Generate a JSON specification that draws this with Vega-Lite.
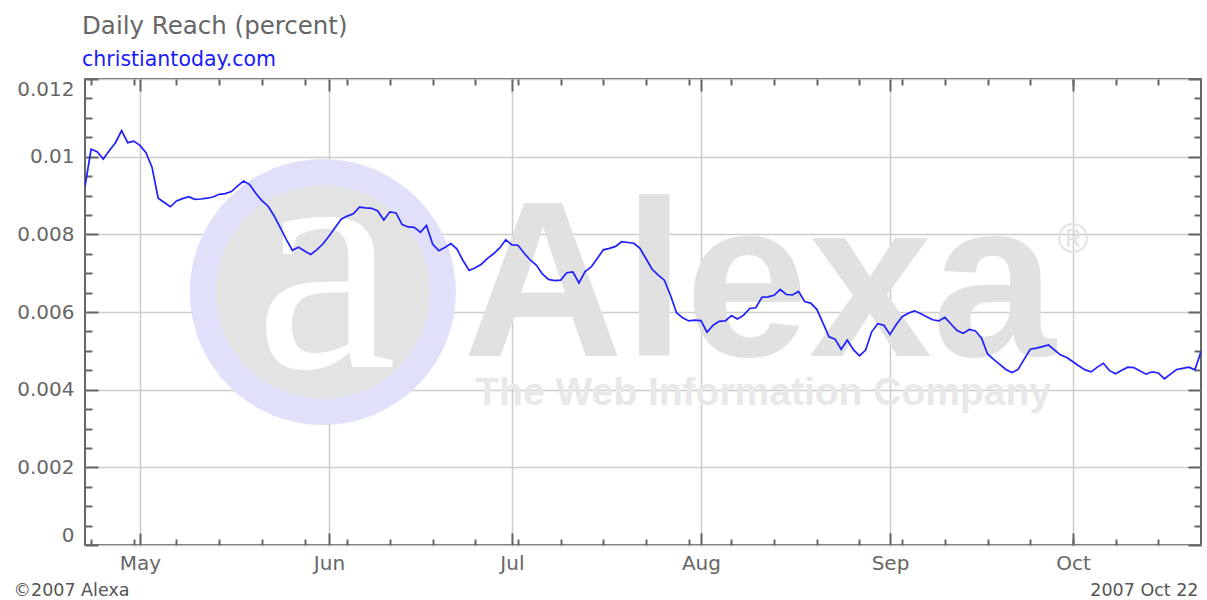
{
  "$schema": "https://vega.github.io/schema/vega-lite/v6.json",
  "width": 1116,
  "height": 466,
  "autosize": "none",
  "padding": {"left": 85, "top": 79, "right": 6, "bottom": 55},
  "background": "white",
  "config": {
    "view": {"stroke": "#666666", "strokeWidth": 2},
    "font": "DejaVu Sans",
    "axis": {
      "labelFont": "DejaVu Sans",
      "labelColor": "#666666",
      "labelFontSize": 20,
      "titleFont": "DejaVu Sans",
      "titleFontWeight": "normal",
      "titleColor": "#555555",
      "titleFontSize": 17.5,
      "domain": false,
      "grid": false,
      "ticks": false,
      "labels": false,
      "tickColor": "#666666",
      "tickWidth": 2,
      "gridColor": "#cccccc",
      "gridWidth": 1.5,
      "zindex": 1
    }
  },
  "title": {
    "text": "Daily Reach (percent)",
    "subtitle": "christiantoday.com",
    "anchor": "start",
    "frame": "group",
    "dx": -3,
    "offset": 7,
    "font": "DejaVu Sans",
    "fontSize": 24.5,
    "fontWeight": "normal",
    "color": "#666666",
    "subtitleFont": "DejaVu Sans",
    "subtitleFontSize": 20.5,
    "subtitleColor": "#1a1aff",
    "subtitlePadding": 10
  },
  "datasets": {
    "reach": [
      {"date": "2007-04-22", "reach": 0.00923},
      {"date": "2007-04-23", "reach": 0.01019},
      {"date": "2007-04-24", "reach": 0.01013},
      {"date": "2007-04-25", "reach": 0.00994},
      {"date": "2007-04-26", "reach": 0.01016},
      {"date": "2007-04-27", "reach": 0.01036},
      {"date": "2007-04-28", "reach": 0.01067},
      {"date": "2007-04-29", "reach": 0.01036},
      {"date": "2007-04-30", "reach": 0.0104},
      {"date": "2007-05-01", "reach": 0.01029},
      {"date": "2007-05-02", "reach": 0.0101},
      {"date": "2007-05-03", "reach": 0.00972},
      {"date": "2007-05-04", "reach": 0.00893},
      {"date": "2007-05-05", "reach": 0.00882},
      {"date": "2007-05-06", "reach": 0.00871},
      {"date": "2007-05-07", "reach": 0.00886},
      {"date": "2007-05-08", "reach": 0.00892},
      {"date": "2007-05-09", "reach": 0.00897},
      {"date": "2007-05-10", "reach": 0.0089},
      {"date": "2007-05-11", "reach": 0.00891},
      {"date": "2007-05-12", "reach": 0.00893},
      {"date": "2007-05-13", "reach": 0.00896},
      {"date": "2007-05-14", "reach": 0.00903},
      {"date": "2007-05-15", "reach": 0.00905},
      {"date": "2007-05-16", "reach": 0.0091},
      {"date": "2007-05-17", "reach": 0.00924},
      {"date": "2007-05-18", "reach": 0.00937},
      {"date": "2007-05-19", "reach": 0.00928},
      {"date": "2007-05-20", "reach": 0.00906},
      {"date": "2007-05-21", "reach": 0.00887},
      {"date": "2007-05-22", "reach": 0.00873},
      {"date": "2007-05-23", "reach": 0.00848},
      {"date": "2007-05-24", "reach": 0.00818},
      {"date": "2007-05-25", "reach": 0.00787},
      {"date": "2007-05-26", "reach": 0.00759},
      {"date": "2007-05-27", "reach": 0.00767},
      {"date": "2007-05-28", "reach": 0.00757},
      {"date": "2007-05-29", "reach": 0.00748},
      {"date": "2007-05-30", "reach": 0.0076},
      {"date": "2007-05-31", "reach": 0.00775},
      {"date": "2007-06-01", "reach": 0.00795},
      {"date": "2007-06-02", "reach": 0.00817},
      {"date": "2007-06-03", "reach": 0.00839},
      {"date": "2007-06-04", "reach": 0.00847},
      {"date": "2007-06-05", "reach": 0.00853},
      {"date": "2007-06-06", "reach": 0.0087},
      {"date": "2007-06-07", "reach": 0.00868},
      {"date": "2007-06-08", "reach": 0.00867},
      {"date": "2007-06-09", "reach": 0.0086},
      {"date": "2007-06-10", "reach": 0.00837},
      {"date": "2007-06-11", "reach": 0.00858},
      {"date": "2007-06-12", "reach": 0.00855},
      {"date": "2007-06-13", "reach": 0.00825},
      {"date": "2007-06-14", "reach": 0.00819},
      {"date": "2007-06-15", "reach": 0.00818},
      {"date": "2007-06-16", "reach": 0.00805},
      {"date": "2007-06-17", "reach": 0.00823},
      {"date": "2007-06-18", "reach": 0.00775},
      {"date": "2007-06-19", "reach": 0.00758},
      {"date": "2007-06-20", "reach": 0.00766},
      {"date": "2007-06-21", "reach": 0.00776},
      {"date": "2007-06-22", "reach": 0.00762},
      {"date": "2007-06-23", "reach": 0.00732},
      {"date": "2007-06-24", "reach": 0.00707},
      {"date": "2007-06-25", "reach": 0.00714},
      {"date": "2007-06-26", "reach": 0.00723},
      {"date": "2007-06-27", "reach": 0.00738},
      {"date": "2007-06-28", "reach": 0.0075},
      {"date": "2007-06-29", "reach": 0.00765},
      {"date": "2007-06-30", "reach": 0.00786},
      {"date": "2007-07-01", "reach": 0.00773},
      {"date": "2007-07-02", "reach": 0.00772},
      {"date": "2007-07-03", "reach": 0.00752},
      {"date": "2007-07-04", "reach": 0.00734},
      {"date": "2007-07-05", "reach": 0.00721},
      {"date": "2007-07-06", "reach": 0.00698},
      {"date": "2007-07-07", "reach": 0.00684},
      {"date": "2007-07-08", "reach": 0.00681},
      {"date": "2007-07-09", "reach": 0.00682},
      {"date": "2007-07-10", "reach": 0.00701},
      {"date": "2007-07-11", "reach": 0.00703},
      {"date": "2007-07-12", "reach": 0.00675},
      {"date": "2007-07-13", "reach": 0.00704},
      {"date": "2007-07-14", "reach": 0.00716},
      {"date": "2007-07-15", "reach": 0.00738},
      {"date": "2007-07-16", "reach": 0.0076},
      {"date": "2007-07-17", "reach": 0.00764},
      {"date": "2007-07-18", "reach": 0.00769},
      {"date": "2007-07-19", "reach": 0.00781},
      {"date": "2007-07-20", "reach": 0.00779},
      {"date": "2007-07-21", "reach": 0.00777},
      {"date": "2007-07-22", "reach": 0.00764},
      {"date": "2007-07-23", "reach": 0.00737},
      {"date": "2007-07-24", "reach": 0.0071},
      {"date": "2007-07-25", "reach": 0.00695},
      {"date": "2007-07-26", "reach": 0.00682},
      {"date": "2007-07-27", "reach": 0.00643},
      {"date": "2007-07-28", "reach": 0.00598},
      {"date": "2007-07-29", "reach": 0.00585},
      {"date": "2007-07-30", "reach": 0.00577},
      {"date": "2007-07-31", "reach": 0.00579},
      {"date": "2007-08-01", "reach": 0.00578},
      {"date": "2007-08-02", "reach": 0.00548},
      {"date": "2007-08-03", "reach": 0.00566},
      {"date": "2007-08-04", "reach": 0.00576},
      {"date": "2007-08-05", "reach": 0.00577},
      {"date": "2007-08-06", "reach": 0.00591},
      {"date": "2007-08-07", "reach": 0.00582},
      {"date": "2007-08-08", "reach": 0.00592},
      {"date": "2007-08-09", "reach": 0.00609},
      {"date": "2007-08-10", "reach": 0.00611},
      {"date": "2007-08-11", "reach": 0.00638},
      {"date": "2007-08-12", "reach": 0.00639},
      {"date": "2007-08-13", "reach": 0.00643},
      {"date": "2007-08-14", "reach": 0.00658},
      {"date": "2007-08-15", "reach": 0.00645},
      {"date": "2007-08-16", "reach": 0.00644},
      {"date": "2007-08-17", "reach": 0.00653},
      {"date": "2007-08-18", "reach": 0.00627},
      {"date": "2007-08-19", "reach": 0.00623},
      {"date": "2007-08-20", "reach": 0.00607},
      {"date": "2007-08-21", "reach": 0.00572},
      {"date": "2007-08-22", "reach": 0.00536},
      {"date": "2007-08-23", "reach": 0.0053},
      {"date": "2007-08-24", "reach": 0.00504},
      {"date": "2007-08-25", "reach": 0.00528},
      {"date": "2007-08-26", "reach": 0.00503},
      {"date": "2007-08-27", "reach": 0.00487},
      {"date": "2007-08-28", "reach": 0.00502},
      {"date": "2007-08-29", "reach": 0.00549},
      {"date": "2007-08-30", "reach": 0.0057},
      {"date": "2007-08-31", "reach": 0.00566},
      {"date": "2007-09-01", "reach": 0.00542},
      {"date": "2007-09-02", "reach": 0.00567},
      {"date": "2007-09-03", "reach": 0.00588},
      {"date": "2007-09-04", "reach": 0.00597},
      {"date": "2007-09-05", "reach": 0.00603},
      {"date": "2007-09-06", "reach": 0.00596},
      {"date": "2007-09-07", "reach": 0.00588},
      {"date": "2007-09-08", "reach": 0.0058},
      {"date": "2007-09-09", "reach": 0.00577},
      {"date": "2007-09-10", "reach": 0.00586},
      {"date": "2007-09-11", "reach": 0.00569},
      {"date": "2007-09-12", "reach": 0.00552},
      {"date": "2007-09-13", "reach": 0.00545},
      {"date": "2007-09-14", "reach": 0.00555},
      {"date": "2007-09-15", "reach": 0.00551},
      {"date": "2007-09-16", "reach": 0.00533},
      {"date": "2007-09-17", "reach": 0.00492},
      {"date": "2007-09-18", "reach": 0.00478},
      {"date": "2007-09-19", "reach": 0.00465},
      {"date": "2007-09-20", "reach": 0.00452},
      {"date": "2007-09-21", "reach": 0.00444},
      {"date": "2007-09-22", "reach": 0.00452},
      {"date": "2007-09-23", "reach": 0.00478},
      {"date": "2007-09-24", "reach": 0.00504},
      {"date": "2007-09-25", "reach": 0.00507},
      {"date": "2007-09-26", "reach": 0.00511},
      {"date": "2007-09-27", "reach": 0.00515},
      {"date": "2007-09-28", "reach": 0.00502},
      {"date": "2007-09-29", "reach": 0.00489},
      {"date": "2007-09-30", "reach": 0.00483},
      {"date": "2007-10-01", "reach": 0.00472},
      {"date": "2007-10-02", "reach": 0.00461},
      {"date": "2007-10-03", "reach": 0.00451},
      {"date": "2007-10-04", "reach": 0.00446},
      {"date": "2007-10-05", "reach": 0.00458},
      {"date": "2007-10-06", "reach": 0.00468},
      {"date": "2007-10-07", "reach": 0.00449},
      {"date": "2007-10-08", "reach": 0.00441},
      {"date": "2007-10-09", "reach": 0.0045},
      {"date": "2007-10-10", "reach": 0.00458},
      {"date": "2007-10-11", "reach": 0.00457},
      {"date": "2007-10-12", "reach": 0.00448},
      {"date": "2007-10-13", "reach": 0.0044},
      {"date": "2007-10-14", "reach": 0.00446},
      {"date": "2007-10-15", "reach": 0.00443},
      {"date": "2007-10-16", "reach": 0.00428},
      {"date": "2007-10-17", "reach": 0.0044},
      {"date": "2007-10-18", "reach": 0.00452},
      {"date": "2007-10-19", "reach": 0.00455},
      {"date": "2007-10-20", "reach": 0.00458},
      {"date": "2007-10-21", "reach": 0.00451},
      {"date": "2007-10-22", "reach": 0.00498}
    ],
    "watermark": [
      {"item": "ring", "date": "2007-05-31T00:00:00Z", "reach": 0.006515},
      {"item": "disk", "date": "2007-05-31T00:00:00Z", "reach": 0.006515},
      {"item": "glyph", "date": "2007-05-31T12:00:00Z", "reach": 0.004584},
      {"item": "brand", "date": "2007-06-23T00:00:00Z", "reach": 0.004867},
      {"item": "tagline", "date": "2007-06-25T00:00:00Z", "reach": 0.003605},
      {"item": "registered", "date": "2007-10-01T00:00:00Z", "reach": 0.007854}
    ]
  },
  "resolve": {"axis": {"x": "independent", "y": "independent"}},
  "layer": [
    {
      "data": {"name": "watermark"},
      "transform": [{"filter": "datum.item == 'ring'"}],
      "mark": {"type": "point", "shape": "circle", "filled": true, "size": 70756, "color": "#e0e0fa", "opacity": 1},
      "encoding": {
        "x": {"field": "date", "type": "temporal",
          "scale": {"type": "utc", "domain": [{"year": 2007, "month": "apr", "date": 22, "utc": true}, {"year": 2007, "month": "oct", "date": 22, "utc": true}]},
          "axis": {"orient": "bottom", "labels": true, "grid": true, "format": "%b", "labelPadding": 8,
            "values": [
              {"year": 2007, "month": "may", "date": 1, "utc": true},
              {"year": 2007, "month": "jun", "date": 1, "utc": true},
              {"year": 2007, "month": "jul", "date": 1, "utc": true},
              {"year": 2007, "month": "aug", "date": 1, "utc": true},
              {"year": 2007, "month": "sep", "date": 1, "utc": true},
              {"year": 2007, "month": "oct", "date": 1, "utc": true}
            ],
            "title": "©2007 Alexa", "titleX": -72, "titleY": 45, "titleAlign": "left", "titleAnchor": "start", "titleBaseline": "middle"}},
        "y": {"field": "reach", "type": "quantitative",
          "scale": {"domain": [0, 0.012], "nice": false, "zero": false},
          "axis": {"orient": "left", "labels": true, "grid": true, "format": "~g", "labelFlush": true, "labelPadding": 11,
            "values": [0, 0.002, 0.004, 0.006, 0.008, 0.01, 0.012], "title": null}}
      }
    },
    {
      "data": {"name": "watermark"},
      "transform": [{"filter": "datum.item == 'disk'"}],
      "mark": {"type": "point", "shape": "circle", "filled": true, "size": 45796, "color": "#e3e3e3", "opacity": 1},
      "encoding": {
        "x": {"field": "date", "type": "temporal",
          "scale": {"type": "utc", "domain": [{"year": 2007, "month": "apr", "date": 22, "utc": true}, {"year": 2007, "month": "oct", "date": 22, "utc": true}]},
          "axis": {"orient": "bottom", "ticks": true, "tickSize": -12,
            "values": [
              {"year": 2007, "month": "may", "date": 1, "utc": true},
              {"year": 2007, "month": "jun", "date": 1, "utc": true},
              {"year": 2007, "month": "jul", "date": 1, "utc": true},
              {"year": 2007, "month": "aug", "date": 1, "utc": true},
              {"year": 2007, "month": "sep", "date": 1, "utc": true},
              {"year": 2007, "month": "oct", "date": 1, "utc": true}
            ],
            "title": "2007 Oct  22", "titleX": 1113, "titleY": 45, "titleAlign": "right", "titleAnchor": "end", "titleBaseline": "middle"}},
        "y": {"field": "reach", "type": "quantitative",
          "scale": {"domain": [0, 0.012], "nice": false, "zero": false},
          "axis": {"orient": "left", "ticks": true, "tickSize": -13,
            "values": [0, 0.002, 0.004, 0.006, 0.008, 0.01, 0.012], "title": null}}
      }
    },
    {
      "data": {"name": "watermark"},
      "transform": [{"filter": "datum.item == 'glyph'"}],
      "mark": {"type": "text", "text": "a", "font": "Liberation Serif", "fontSize": 320, "color": "#ffffff", "align": "center", "baseline": "alphabetic"},
      "encoding": {
        "x": {"field": "date", "type": "temporal",
          "scale": {"type": "utc", "domain": [{"year": 2007, "month": "apr", "date": 22, "utc": true}, {"year": 2007, "month": "oct", "date": 22, "utc": true}]},
          "axis": {"orient": "bottom", "ticks": true, "tickSize": -6,
            "values": [
              {"year": 2007, "month": "apr", "date": 23, "utc": true},
              {"year": 2007, "month": "apr", "date": 30, "utc": true},
              {"year": 2007, "month": "may", "date": 7, "utc": true},
              {"year": 2007, "month": "may", "date": 14, "utc": true},
              {"year": 2007, "month": "may", "date": 21, "utc": true},
              {"year": 2007, "month": "may", "date": 28, "utc": true},
              {"year": 2007, "month": "jun", "date": 4, "utc": true},
              {"year": 2007, "month": "jun", "date": 11, "utc": true},
              {"year": 2007, "month": "jun", "date": 18, "utc": true},
              {"year": 2007, "month": "jun", "date": 25, "utc": true},
              {"year": 2007, "month": "jul", "date": 2, "utc": true},
              {"year": 2007, "month": "jul", "date": 9, "utc": true},
              {"year": 2007, "month": "jul", "date": 16, "utc": true},
              {"year": 2007, "month": "jul", "date": 23, "utc": true},
              {"year": 2007, "month": "jul", "date": 30, "utc": true},
              {"year": 2007, "month": "aug", "date": 6, "utc": true},
              {"year": 2007, "month": "aug", "date": 13, "utc": true},
              {"year": 2007, "month": "aug", "date": 20, "utc": true},
              {"year": 2007, "month": "aug", "date": 27, "utc": true},
              {"year": 2007, "month": "sep", "date": 3, "utc": true},
              {"year": 2007, "month": "sep", "date": 10, "utc": true},
              {"year": 2007, "month": "sep", "date": 17, "utc": true},
              {"year": 2007, "month": "sep", "date": 24, "utc": true},
              {"year": 2007, "month": "oct", "date": 1, "utc": true},
              {"year": 2007, "month": "oct", "date": 8, "utc": true},
              {"year": 2007, "month": "oct", "date": 15, "utc": true}
            ],
            "title": null}},
        "y": {"field": "reach", "type": "quantitative",
          "scale": {"domain": [0, 0.012], "nice": false, "zero": false},
          "axis": {"orient": "left", "ticks": true, "tickSize": -7,
            "values": [0.0005, 0.001, 0.0015, 0.0025, 0.003, 0.0035, 0.0045, 0.005, 0.0055, 0.0065, 0.007, 0.0075, 0.0085, 0.009, 0.0095, 0.0105, 0.011, 0.0115], "title": null}}
      }
    },
    {
      "data": {"name": "watermark"},
      "transform": [{"filter": "datum.item == 'brand'"}],
      "mark": {"type": "text", "text": "Alexa", "font": "Liberation Sans", "fontWeight": "bold", "fontSize": 222, "color": "#e1e1e1", "align": "left", "baseline": "alphabetic"},
      "encoding": {
        "x": {"field": "date", "type": "temporal",
          "scale": {"type": "utc", "domain": [{"year": 2007, "month": "apr", "date": 22, "utc": true}, {"year": 2007, "month": "oct", "date": 22, "utc": true}]},
          "axis": {"orient": "top", "ticks": true, "tickSize": -12,
            "values": [
              {"year": 2007, "month": "may", "date": 1, "utc": true},
              {"year": 2007, "month": "jun", "date": 1, "utc": true},
              {"year": 2007, "month": "jul", "date": 1, "utc": true},
              {"year": 2007, "month": "aug", "date": 1, "utc": true},
              {"year": 2007, "month": "sep", "date": 1, "utc": true},
              {"year": 2007, "month": "oct", "date": 1, "utc": true}
            ],
            "title": null}},
        "y": {"field": "reach", "type": "quantitative",
          "scale": {"domain": [0, 0.012], "nice": false, "zero": false},
          "axis": {"orient": "right", "ticks": true, "tickSize": -13,
            "values": [0, 0.002, 0.004, 0.006, 0.008, 0.01, 0.012], "title": null}}
      }
    },
    {
      "data": {"name": "watermark"},
      "transform": [{"filter": "datum.item == 'tagline'"}],
      "mark": {"type": "text", "text": "The Web Information Company", "font": "Liberation Sans", "fontWeight": "bold", "fontSize": 39, "color": "#e8e8e8", "align": "left", "baseline": "alphabetic"},
      "encoding": {
        "x": {"field": "date", "type": "temporal",
          "scale": {"type": "utc", "domain": [{"year": 2007, "month": "apr", "date": 22, "utc": true}, {"year": 2007, "month": "oct", "date": 22, "utc": true}]},
          "axis": {"orient": "top", "ticks": true, "tickSize": -6,
            "values": [
              {"year": 2007, "month": "apr", "date": 23, "utc": true},
              {"year": 2007, "month": "apr", "date": 30, "utc": true},
              {"year": 2007, "month": "may", "date": 7, "utc": true},
              {"year": 2007, "month": "may", "date": 14, "utc": true},
              {"year": 2007, "month": "may", "date": 21, "utc": true},
              {"year": 2007, "month": "may", "date": 28, "utc": true},
              {"year": 2007, "month": "jun", "date": 4, "utc": true},
              {"year": 2007, "month": "jun", "date": 11, "utc": true},
              {"year": 2007, "month": "jun", "date": 18, "utc": true},
              {"year": 2007, "month": "jun", "date": 25, "utc": true},
              {"year": 2007, "month": "jul", "date": 2, "utc": true},
              {"year": 2007, "month": "jul", "date": 9, "utc": true},
              {"year": 2007, "month": "jul", "date": 16, "utc": true},
              {"year": 2007, "month": "jul", "date": 23, "utc": true},
              {"year": 2007, "month": "jul", "date": 30, "utc": true},
              {"year": 2007, "month": "aug", "date": 6, "utc": true},
              {"year": 2007, "month": "aug", "date": 13, "utc": true},
              {"year": 2007, "month": "aug", "date": 20, "utc": true},
              {"year": 2007, "month": "aug", "date": 27, "utc": true},
              {"year": 2007, "month": "sep", "date": 3, "utc": true},
              {"year": 2007, "month": "sep", "date": 10, "utc": true},
              {"year": 2007, "month": "sep", "date": 17, "utc": true},
              {"year": 2007, "month": "sep", "date": 24, "utc": true},
              {"year": 2007, "month": "oct", "date": 1, "utc": true},
              {"year": 2007, "month": "oct", "date": 8, "utc": true},
              {"year": 2007, "month": "oct", "date": 15, "utc": true}
            ],
            "title": null}},
        "y": {"field": "reach", "type": "quantitative",
          "scale": {"domain": [0, 0.012], "nice": false, "zero": false},
          "axis": {"orient": "right", "ticks": true, "tickSize": -7,
            "values": [0.0005, 0.001, 0.0015, 0.0025, 0.003, 0.0035, 0.0045, 0.005, 0.0055, 0.0065, 0.007, 0.0075, 0.0085, 0.009, 0.0095, 0.0105, 0.011, 0.0115], "title": null}}
      }
    },
    {
      "data": {"name": "watermark"},
      "transform": [{"filter": "datum.item == 'registered'"}],
      "mark": {"type": "text", "text": "®", "font": "Liberation Sans", "fontSize": 42, "color": "#e3e3e3", "align": "center", "baseline": "middle"},
      "encoding": {
        "x": {"field": "date", "type": "temporal",
          "scale": {"type": "utc", "domain": [{"year": 2007, "month": "apr", "date": 22, "utc": true}, {"year": 2007, "month": "oct", "date": 22, "utc": true}]},
          "axis": null},
        "y": {"field": "reach", "type": "quantitative",
          "scale": {"domain": [0, 0.012], "nice": false, "zero": false},
          "axis": null}
      }
    },
    {
      "data": {"name": "reach"},
      "mark": {"type": "line", "color": "#1f1fff", "strokeWidth": 1.7, "clip": true},
      "encoding": {
        "x": {"field": "date", "type": "temporal",
          "scale": {"type": "utc", "domain": [{"year": 2007, "month": "apr", "date": 22, "utc": true}, {"year": 2007, "month": "oct", "date": 22, "utc": true}]},
          "axis": null},
        "y": {"field": "reach", "type": "quantitative",
          "scale": {"domain": [0, 0.012], "nice": false, "zero": false},
          "axis": null}
      }
    }
  ]
}
